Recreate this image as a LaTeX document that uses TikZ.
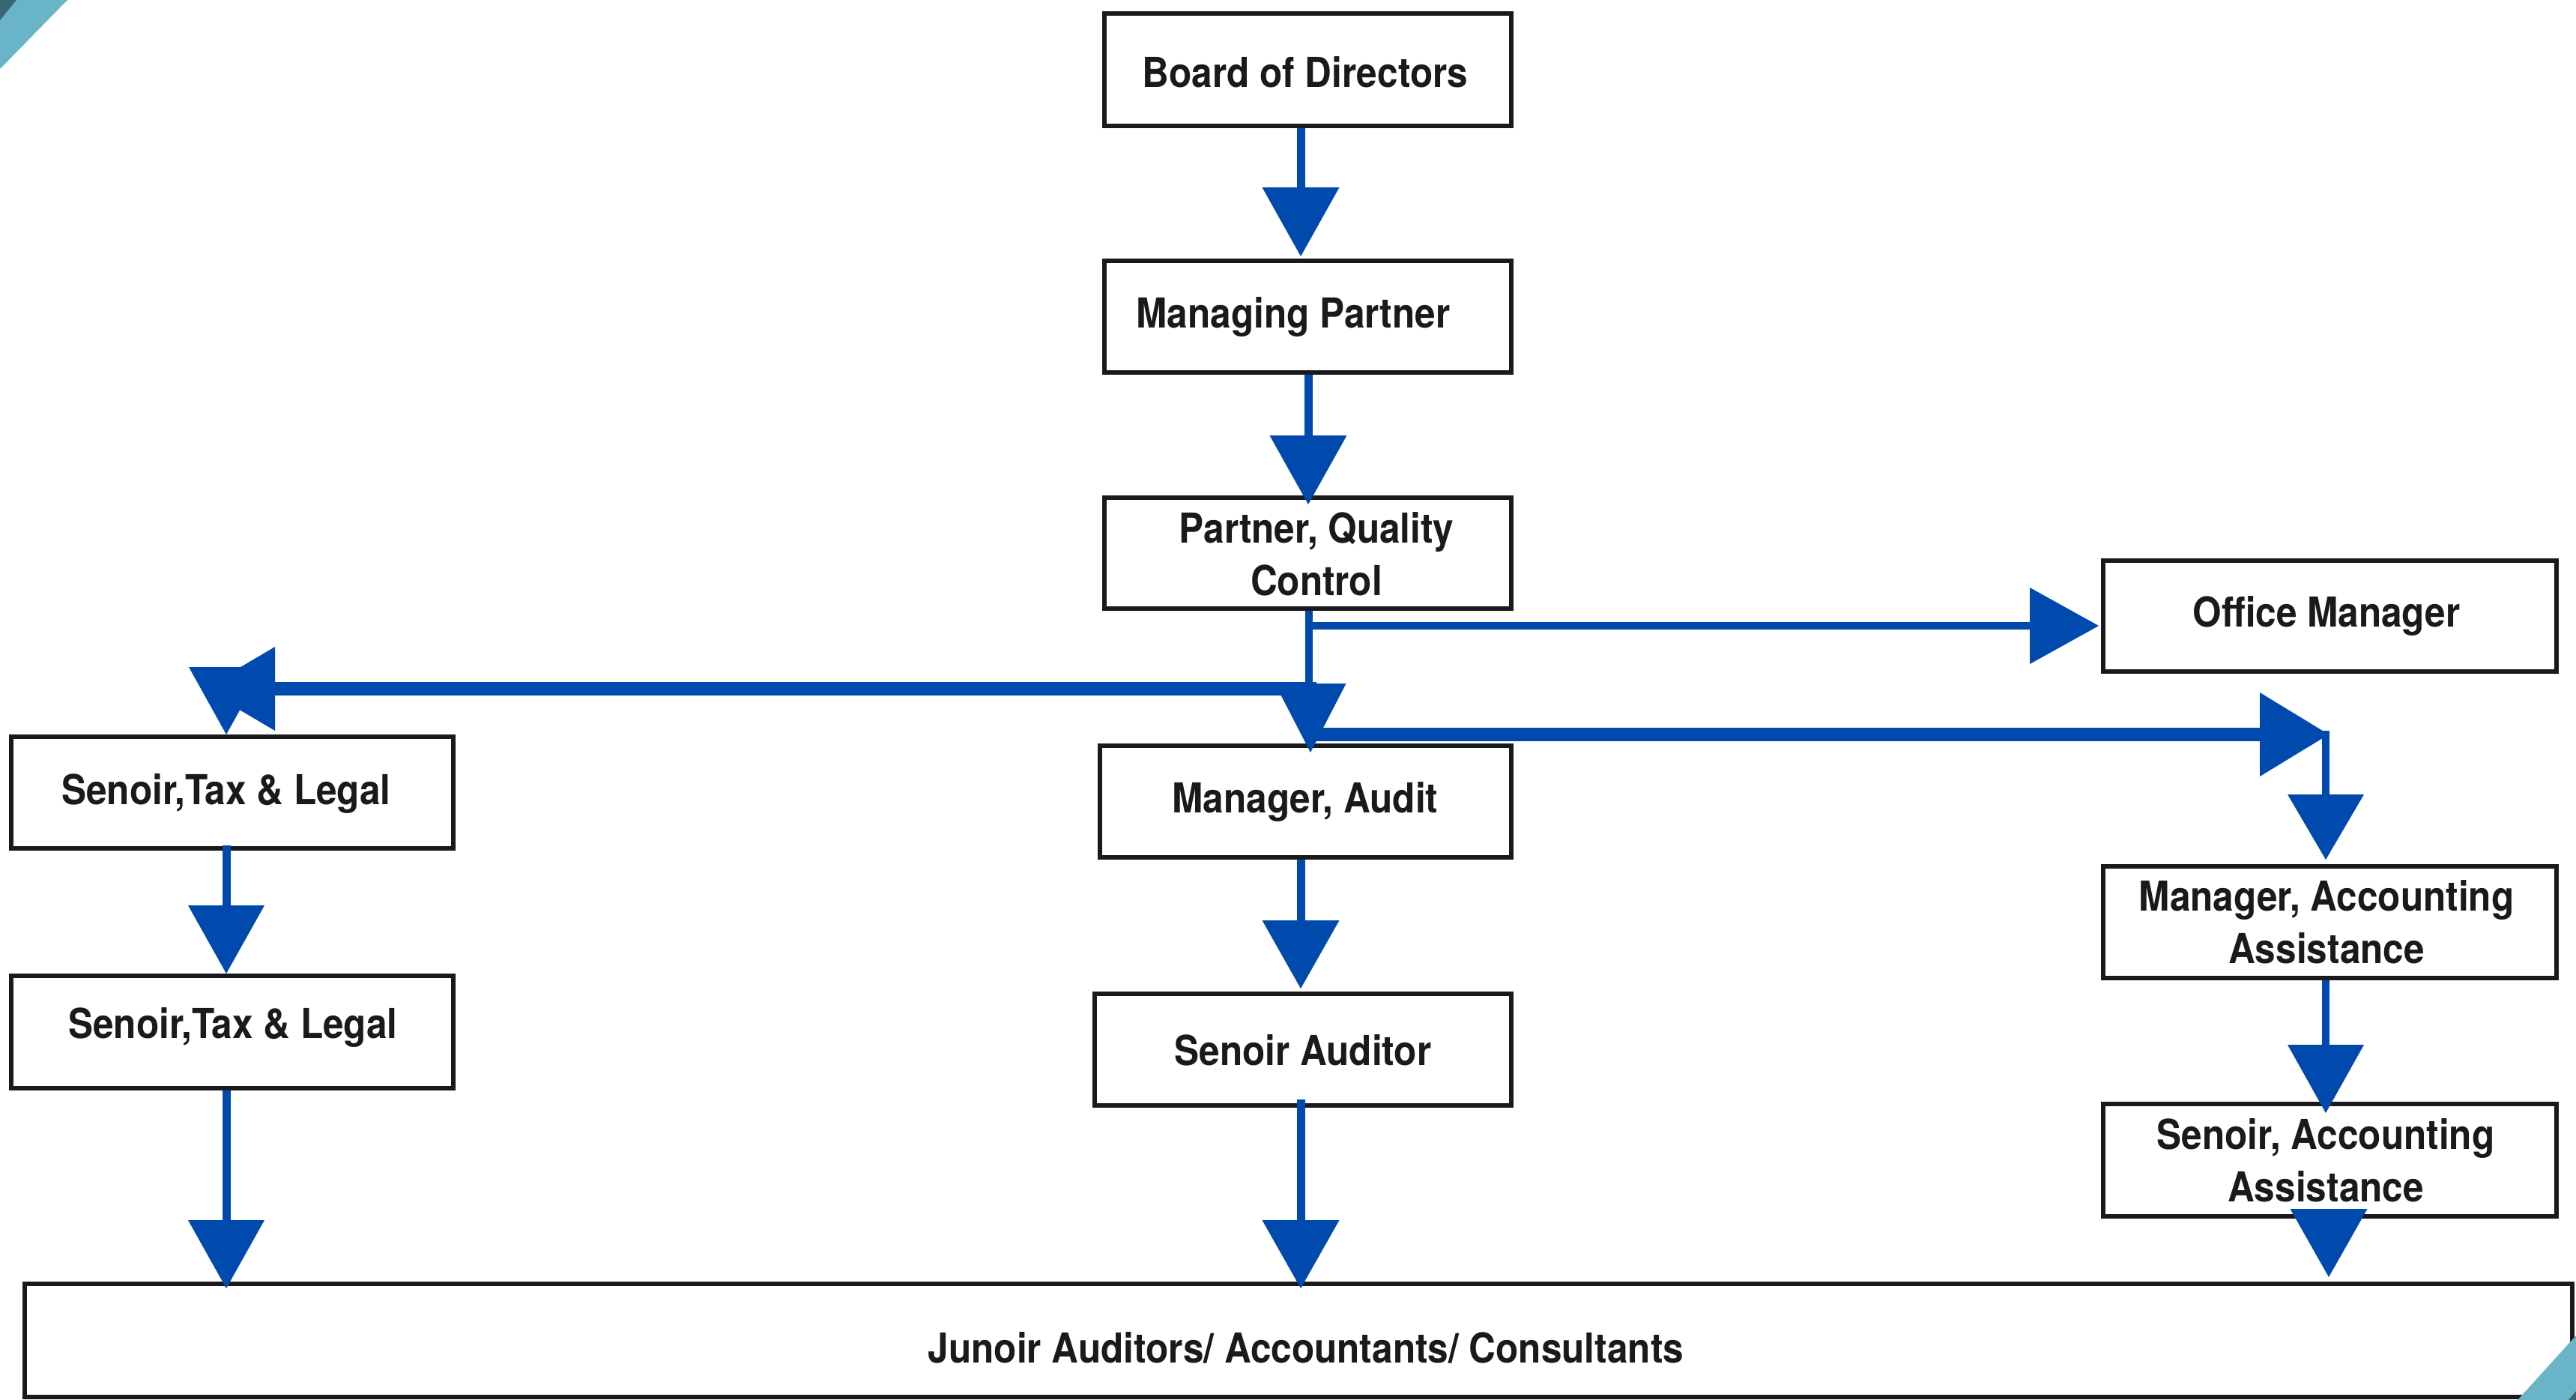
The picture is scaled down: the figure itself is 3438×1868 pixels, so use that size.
\documentclass[tikz,border=0pt]{standalone}
\usepackage{fontspec}
\setmainfont{TeX Gyre Heros}[FakeStretch=0.9]
\usetikzlibrary{calc}
\definecolor{ablue}{HTML}{004AAD}
\definecolor{boxline}{HTML}{1A1A1A}
\definecolor{txt}{HTML}{1A1A1A}
\definecolor{cornerlight}{HTML}{6AB4C8}
\definecolor{cornerdark}{HTML}{3A6575}
% triangles: #1 tip, #2 half width, #3 length
\newcommand{\ArrDown}[3]{\fill[ablue] (#1) -- ++(-#2,-#3) -- ++(2*#2,0) -- cycle;}
\newcommand{\ArrRight}[3]{\fill[ablue] (#1) -- ++(-#3,-#2) -- ++(0,2*#2) -- cycle;}
\newcommand{\ArrLeft}[3]{\fill[ablue] (#1) -- ++(#3,-#2) -- ++(0,2*#2) -- cycle;}
\tikzset{
  orgbox/.style={draw=boxline, line width=6pt, rectangle, inner sep=0pt},
  lbl/.style={font=\fontsize{55}{70}\selectfont\bfseries, text=txt, align=center, inner sep=0pt},
  shaft/.style={draw=ablue, line width=11pt},
  thinshaft/.style={draw=ablue, line width=10pt},
  thickshaft/.style={draw=ablue, line width=18pt}
}
\begin{document}
\begin{tikzpicture}[x=1pt,y=-1pt]
\useasboundingbox (0,0) rectangle (3438,1868);
\fill[white] (0,0) rectangle (3438,1868);
% boxes
\node[orgbox, minimum width=543pt, minimum height=150pt] (bod) at (1745.5,93) {};
\node[orgbox, minimum width=543pt, minimum height=149pt] (mp) at (1745.5,422.5) {};
\node[orgbox, minimum width=543pt, minimum height=148pt] (pqc) at (1745.5,738) {};
\node[orgbox, minimum width=605pt, minimum height=148pt] (om) at (3109.5,822) {};
\node[orgbox, minimum width=590pt, minimum height=149pt] (tax1) at (310,1057.5) {};
\node[orgbox, minimum width=549pt, minimum height=149pt] (ma) at (1742.5,1069.5) {};
\node[orgbox, minimum width=605pt, minimum height=149pt] (mac) at (3109.5,1230.5) {};
\node[orgbox, minimum width=590pt, minimum height=150pt] (tax2) at (310,1377) {};
\node[orgbox, minimum width=556pt, minimum height=149pt] (sa) at (1739,1400.5) {};
\node[orgbox, minimum width=605pt, minimum height=150pt] (sac) at (3109.5,1548) {};
\node[orgbox, minimum width=3400pt, minimum height=151pt] (jr) at (1733,1788.5) {};
% labels
\node[lbl] (bodt) at (1742,96) {Board of Directors};
\node[lbl] (mpt) at (1726,423) {Managing Partner};
\node[lbl] (pqct) at (1757,739) {Partner, Quality\\Control};
\node[lbl] (omt) at (3105,822) {Office Manager};
\node[lbl] (tax1t) at (302,1059) {Senoir,Tax \& Legal};
\node[lbl] (mat) at (1742,1070) {Manager, Audit};
\node[lbl] (mact) at (3105,1230) {Manager, Accounting\\Assistance};
\node[lbl] (tax2t) at (311,1371) {Senoir,Tax \& Legal};
\node[lbl] (sat) at (1739,1401) {Senoir Auditor};
\node[lbl] (sact) at (3104,1548) {Senoir, Accounting\\Assistance};
\node[lbl] (jrt) at (1743,1798) {Junoir Auditors/ Accountants/ Consultants};
% junction coordinates
\coordinate (jL) at (1757,919);
\coordinate (jR) at (1747,980);
\coordinate (jO) at (1752,835);
\coordinate (cL) at (367,919);
\coordinate (cR) at (3104,980);
% Board -> Managing Partner
\draw[shaft, shorten >=80pt] (1736,0 |- bod.south) -- (1736,0 |- mp.north);
\ArrDown{$(1736,0 |- mp.north)+(0,-3)$}{51.5}{92}
% Managing Partner -> Partner QC
\draw[shaft, shorten >=80pt] (1746,0 |- mp.south) -- ($(1746,0 |- pqc.north)+(0,12)$);
\ArrDown{$(1746,0 |- pqc.north)+(0,12)$}{51.5}{92}
% Partner QC -> Manager Audit
\draw[thinshaft] (1747,0 |- pqc.south) -- (1747,925);
\ArrDown{$(1749,0 |- ma.north)+(0,12)$}{47.5}{92}
% Partner QC -> Office Manager
\draw[thinshaft] (jO) -- ($(om.west)+(-90,13)$);
\ArrRight{$(om.west)+(-3,13)$}{51}{92}
% -> Senoir Tax & Legal (left)
\draw[thickshaft] (jL) -- (cL);
\ArrLeft{272,919}{56}{95}
\ArrDown{302,0 |- tax1.north}{50}{90}
% -> Manager Accounting (right)
\draw[thickshaft] (jR) -- (3020,980);
\ArrRight{3108,980}{56}{92}
\draw[thinshaft] (3104,975) -- (3104,1066);
\ArrDown{$(3104,0 |- mac.north)+(0,-6)$}{51}{87}
% Tax1 -> Tax2
\draw[shaft, shorten >=80pt] ($(302,0 |- tax1.south)+(0,-7)$) -- (302,0 |- tax2.north);
\ArrDown{302,0 |- tax2.north}{51}{91}
% Tax2 -> Junior
\draw[shaft, shorten >=80pt] (302,0 |- tax2.south) -- ($(302,0 |- jr.north)+(0,9)$);
\ArrDown{$(302,0 |- jr.north)+(0,9)$}{51}{91}
% Manager Audit -> Senoir Auditor
\draw[shaft, shorten >=80pt] (1736,0 |- ma.south) -- (1736,0 |- sa.north);
\ArrDown{$(1736,0 |- sa.north)+(0,-4)$}{51.5}{91}
% Senoir Auditor -> Junior
\draw[shaft, shorten >=80pt] ($(1736,0 |- sa.south)+(0,-11)$) -- ($(1736,0 |- jr.north)+(0,9)$);
\ArrDown{$(1736,0 |- jr.north)+(0,9)$}{51.5}{91}
% Manager Accounting -> Senoir Accounting
\draw[thinshaft, shorten >=80pt] (3104,0 |- mac.south) -- ($(3104,0 |- sac.north)+(0,15)$);
\ArrDown{$(3104,0 |- sac.north)+(0,15)$}{51}{91}
% Senoir Accounting -> Junior
\ArrDown{$(3108,0 |- jr.north)+(0,-6)$}{51.5}{91}
% corner decorations
\fill[cornerlight] (0,0) -- (90,0) -- (0,92) -- cycle;
\fill[cornerdark] (0,0) -- (22,0) -- (0,27) -- cycle;
\fill[cornerlight] (3360,1868) -- (3438,1782) -- (3438,1868) -- cycle;
\fill[cornerdark] (3428,1868) -- (3438,1856) -- (3438,1868) -- cycle;
\end{tikzpicture}
\end{document}
